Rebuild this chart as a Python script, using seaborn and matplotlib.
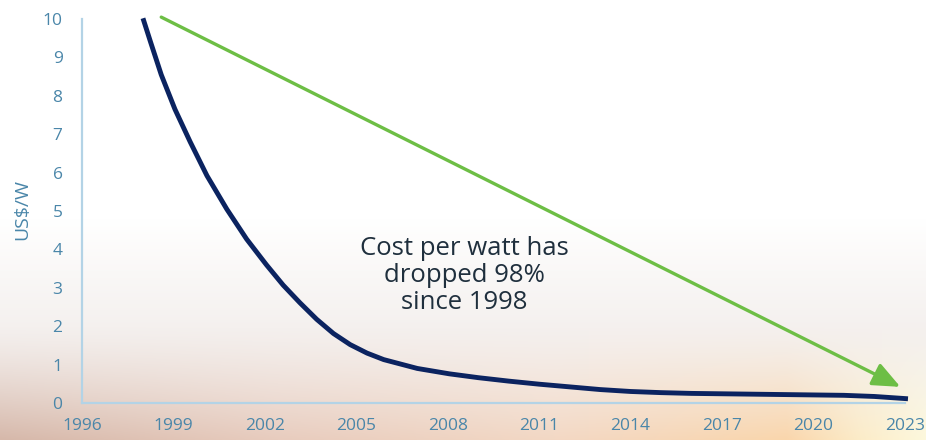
import numpy as np
import pandas as pd
import matplotlib
matplotlib.use("Agg")
import matplotlib.pyplot as plt
import seaborn as sns

# ---- data ----
years = [1998.0, 1998.25, 1998.6, 1999.05, 1999.55, 2000.1, 2000.75, 2001.4,
         2002.05, 2002.6, 2003.15, 2003.7, 2004.25, 2004.8, 2005.35, 2005.9,
         2007.0, 2008.05, 2009, 2010, 2011, 2012, 2013, 2014, 2015, 2016,
         2017, 2018, 2019, 2020, 2021, 2022, 2023.1]
cost = [10.02, 9.4, 8.55, 7.65, 6.8, 5.92, 5.05, 4.27,
        3.6, 3.07, 2.61, 2.18, 1.81, 1.52, 1.3, 1.13,
        0.9, 0.76, 0.66, 0.57, 0.49, 0.42, 0.35, 0.3, 0.27, 0.25,
        0.24, 0.23, 0.22, 0.21, 0.2, 0.17, 0.11]
arrow_start = (1998.6, 10.05)
arrow_end = (2022.85, 0.42)
xticks = [1996, 1999, 2002, 2005, 2008, 2011, 2014, 2017, 2020, 2023]
yticks = list(range(0, 11))
note = "Cost per watt has\ndropped 98%\nsince 1998"
ylabel = "US$/W"

df = pd.DataFrame({"year": years, "cost": cost})

sns.set_theme(style="white")
plt.rcParams["font.family"] = ["Open Sans", "DejaVu Sans"]

W, H = 926, 440
fig = plt.figure(figsize=(W / 100, H / 100), dpi=100)

# ---- background gradient ----
bg = fig.add_axes([0, 0, 1, 1], zorder=-10)
xs = np.linspace(0, 1, W)
ys = np.linspace(0, 1, H)
anc_x = [0.0, 0.3, 0.6, 0.85, 0.93, 1.0]
anc_c = np.array([[214, 184, 170], [232, 204, 190], [243, 216, 196],
                  [250, 214, 172], [252, 236, 200], [253, 248, 220]]) / 255.0
bottom = np.stack([np.interp(xs, anc_x, anc_c[:, k]) for k in range(3)], axis=1)
mid = np.array([244, 240, 238]) / 255.0
white = np.array([1.0, 1.0, 1.0])
img = np.zeros((H, W, 3))
for i, yy in enumerate(ys):
    t1 = np.clip((yy - 0.5) / 0.25, 0, 1)
    t2 = np.clip((yy - 0.74) / 0.26, 0, 1) ** 1.3
    row = white * (1 - t1) + mid * t1
    img[i] = row[None, :] * (1 - t2) + bottom * t2
bg.imshow(img, aspect="auto", extent=[0, 1, 0, 1], origin="upper")
bg.set_axis_off()

# ---- main axes ----
ax = fig.add_axes([82 / W, 37 / H, 827.5 / W, 387.8 / H])
ax.set_facecolor("none")
sns.lineplot(data=df, x="year", y="cost", ax=ax, color="#0b2360", lw=3.5,
             clip_on=False, solid_capstyle="butt", solid_joinstyle="round")
ax.set_xlim(1996, 2023.15)
ax.set_ylim(0, 10.1)

ax.annotate("", xy=arrow_end, xytext=arrow_start,
            arrowprops=dict(arrowstyle="-|>,head_length=1.4,head_width=0.6",
                            color="#6dbe45", lw=2.4, shrinkA=0, shrinkB=0))

ax.text(2008.55, 3.32, note, ha="center", va="center", fontsize=18.5,
        color="#1f2f3d", linespacing=1.1)

tick_color = "#4a86a9"
ax.set_xticks(xticks)
ax.set_yticks(yticks)
ax.tick_params(axis="both", length=0, labelsize=12.5, colors=tick_color)
ax.tick_params(axis="x", pad=11)
ax.tick_params(axis="y", pad=14)
for lab in ax.get_yticklabels():
    lab.set_horizontalalignment("right")
ax.set_xlabel("")
ax.set_ylabel(ylabel, fontsize=14, color=tick_color, labelpad=8)

sns.despine(ax=ax)
for s in ["left", "bottom"]:
    ax.spines[s].set_color("#b3d3e6")
    ax.spines[s].set_linewidth(1.6)
ax.spines["left"].set_bounds(0, 10)
ax.spines["bottom"].set_bounds(1996, 2023)

fig.savefig("out.png", dpi=100)
